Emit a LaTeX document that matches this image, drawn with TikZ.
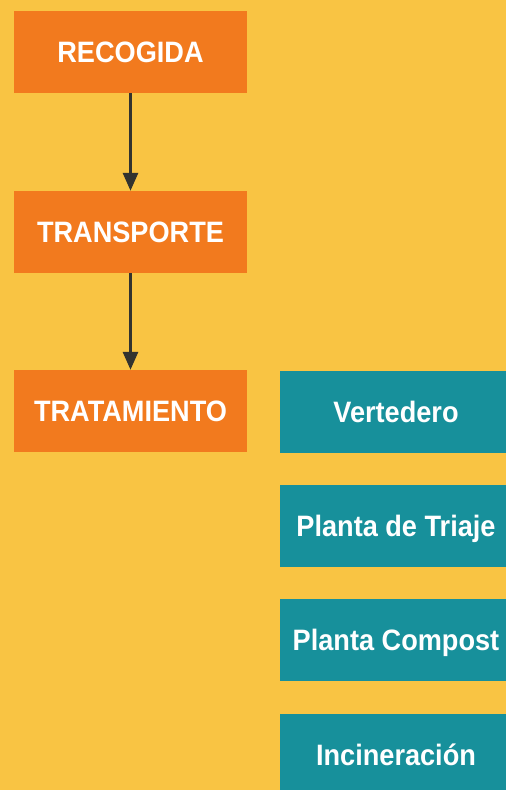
\documentclass[tikz,border=0pt]{standalone}
\usepackage{fontspec}
\setmainfont[FakeStretch=0.92]{Liberation Sans}
\usepackage{xcolor}
\usetikzlibrary{arrows.meta, positioning}

\definecolor{fondo}{HTML}{F9C443}
\definecolor{naranja}{HTML}{F27A1E}
\definecolor{turquesa}{HTML}{17909B}
\definecolor{flecha}{HTML}{33332F}

\tikzset{
    etapa/.style={fill=naranja, text=white, minimum width=233pt, minimum height=82pt,
        inner sep=0pt, text height=21pt, text depth=0pt,
        font=\fontsize{29.5}{29.5}\selectfont\bfseries},
    destino/.style={etapa, fill=turquesa, minimum width=232pt},
    paso/.style={draw=flecha, line width=3pt, -{Triangle[length=18pt, width=15pt]}}
}

\begin{document}
\begin{tikzpicture}[x=1pt, y=-1pt]
        \useasboundingbox (0,0) rectangle (506,790);
        \clip (0,0) rectangle (506,790);
        \fill[fondo] (0,0) rectangle (506,790);

        % cadena principal
        \node[etapa] (recogida) at (130.5,52) {RECOGIDA};
        \node[etapa] (transporte) at (130.5,232) {TRANSPORTE};
        \node[etapa] (tratamiento) at (130.5,411) {TRATAMIENTO};

        \draw[paso] (recogida) -- (transporte);
        \draw[paso] (transporte) -- (tratamiento);

        % destinos del tratamiento
        \node[destino] (vertedero) at (396,411.5) {Vertedero};
        \node[destino] (triaje) at (396,526) {Planta de Triaje};
        \node[destino] (compost) at (396,639.5) {Planta Compost};
        \node[destino] (incineracion) at (396,755) {Incineración};
    \end{tikzpicture}
\end{document}
